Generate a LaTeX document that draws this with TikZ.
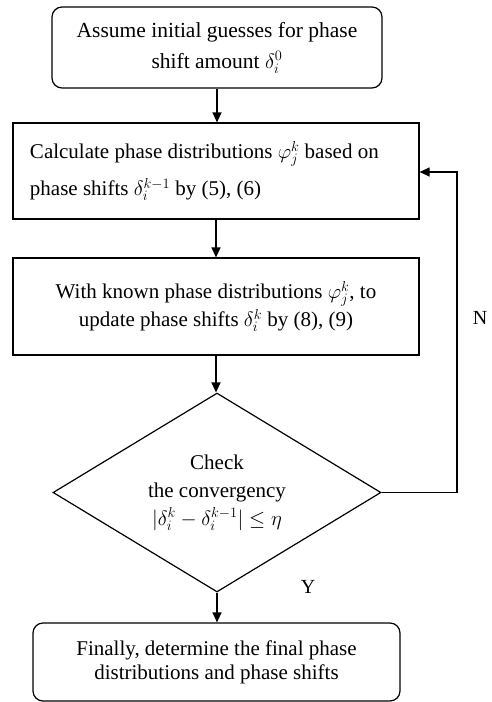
\documentclass[tikz,border=0pt]{standalone}
\usepackage{fontspec}
\setmainfont{Liberation Serif}
\usetikzlibrary{shapes.geometric,arrows.meta}
\begin{document}
\begin{tikzpicture}[x=1pt,y=1pt,
  every node/.style={font=\fontsize{21}{26}\selectfont},
  flow/.style={draw, line width=1.2pt, inner sep=0pt},
  arr/.style={line width=1.2pt, -{Triangle[length=10pt,width=9pt]}},
  lbl/.style={font=\fontsize{20}{22}\selectfont}]
\useasboundingbox (0,0) rectangle (492,-702);
\node[flow, rounded corners=10pt, minimum width=330pt, minimum height=81pt, align=center,
  font=\fontsize{21.5}{31}\selectfont] (b1) at (217,-47.5)
  {Assume initial guesses for phase\\shift amount $\delta_i^0$};
\node[flow, minimum width=406pt, minimum height=96pt] (b2) at (216,-171)
  {\hspace*{8pt}\parbox{380pt}{\fontsize{21}{37}\selectfont\raggedright
   Calculate phase distributions $\varphi_j^k$ based on\\phase shifts $\delta_i^{k-1}$ by (5), (6)}};
\node[flow, minimum width=406pt, minimum height=97pt, align=center,
  font=\fontsize{21}{28}\selectfont] (b3) at (216,-306.5)
  {With known phase distributions $\varphi_j^k$, to\\update phase shifts $\delta_i^k$ by (8), (9)};
\node[flow, diamond, aspect=1.65, minimum width=328pt, minimum height=199pt, align=center,
  font=\fontsize{21}{28}\selectfont] (dia) at (217,-492.5)
  {Check\\the convergency\\$\bigl|\delta_i^k-\delta_i^{k-1}\bigr|\le\eta$};
\node[flow, rounded corners=10pt, minimum width=367pt, minimum height=78pt, align=center,
  font=\fontsize{21}{24}\selectfont] (b5) at (216.5,-662)
  {Finally, determine the final phase\\distributions and phase shifts};
\coordinate (fb) at (457,-172);
\node[lbl] (n) at (480,-318) {N};
\node[lbl] (y) at (308,-587) {Y};
\draw[arr] (b1.south) -- (b1.south |- b2.north);
\draw[arr] (b2.south) -- (b2.south |- b3.north);
\draw[arr] (b3.south) -- (b3.south |- dia.north);
\draw[arr] (dia.south) -- (dia.south |- b5.north);
\draw[arr] (dia.east) -| (fb) -- (fb -| b2.east);
\end{tikzpicture}
\end{document}
